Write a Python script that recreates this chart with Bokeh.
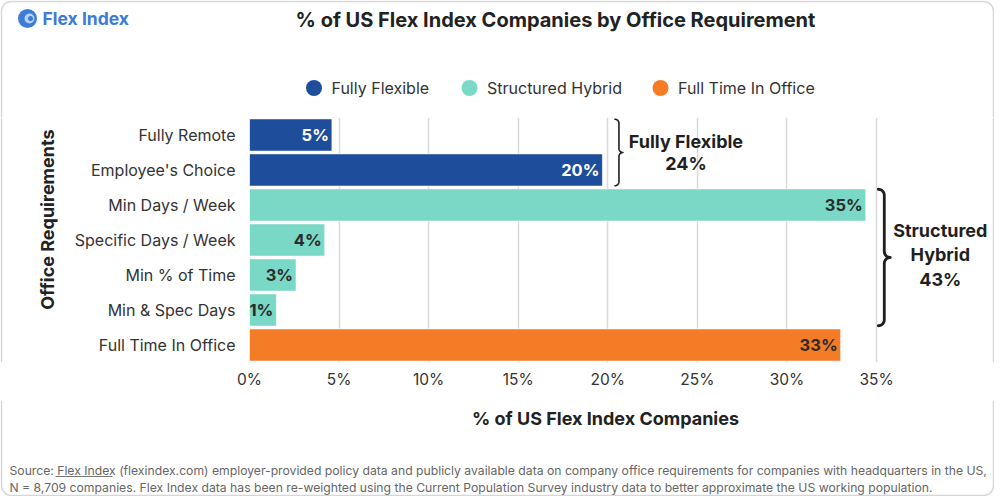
import math
from bokeh.plotting import figure
from bokeh.layouts import column, row
from bokeh.models import (ColumnDataSource, FactorRange, Range1d, FixedTicker,
                          PrintfTickFormatter)
from bokeh.core.properties import value
from bokeh.embed import file_html
from bokeh.resources import INLINE

# ---------------- data ----------------
categories = ["Fully Remote", "Employee's Choice", "Min Days / Week", "Specific Days / Week",
              "Min % of Time", "Min & Spec Days", "Full Time In Office"]
groups = ["Fully Flexible", "Fully Flexible", "Structured Hybrid", "Structured Hybrid",
          "Structured Hybrid", "Structured Hybrid", "Full Time In Office"]
values = [4.6, 19.7, 34.4, 4.2, 2.6, 1.5, 33.0]
value_labels = ["5%", "20%", "35%", "4%", "3%", "1%", "33%"]
group_names = ["Fully Flexible", "Structured Hybrid", "Full Time In Office"]
group_colors = ["#1e4d9b", "#7ad8c6", "#f47c27"]
brace_groups = ["Fully Flexible", "Structured Hybrid"]
brace_texts = ["Fully Flexible\n24%", "Structured\nHybrid\n43%"]
x_ticks = [0, 5, 10, 15, 20, 25, 30, 35]

title_text = "% of US Flex Index Companies by Office Requirement"
x_title = "% of US Flex Index Companies"
y_title = "Office Requirements"
logo_text = "Flex Index"
source_1 = ("Source: Flex Index (flexindex.com) employer-provided policy data and publicly available data "
            "on company office requirements for companies with headquarters in the US,")
source_2 = ("N = 8,709 companies. Flex Index data has been re-weighted using the Current Population "
            "Survey industry data to better approximate the US working population.")

# ---------------- layout constants ----------------
FONT = value("Inter")
TOTAL_W = 994
HEAD_H = 117
MAIN_H = 283
FOOT_H = 96
LEFT_W = 70
RIGHT_W = 4
MAIN_W = TOTAL_W - LEFT_W - RIGHT_W
ML = 249 - LEFT_W
MB = 38
frame_w = MAIN_W - ML
frame_h = MAIN_H - MB
PX_X = 627.0 / 35.0
x_end = frame_w / PX_X
N = len(categories)
PX_Y = frame_h / N
BAR_H = 0.92
BORDER = "#d6d6d6"
DARK = "#222222"


def panel(w, h, flip=True):
    f = figure(width=w, height=h, output_backend="svg", toolbar_location=None,
               x_range=Range1d(0, w), y_range=Range1d(h, 0) if flip else Range1d(0, h),
               x_axis_location=None, y_axis_location=None,
               min_border=0, min_border_left=0, min_border_right=0,
               min_border_top=0, min_border_bottom=0)
    f.outline_line_color = None
    f.xgrid.visible = False
    f.ygrid.visible = False
    f.background_fill_color = "white"
    f.border_fill_color = "white"
    return f


def arc_pts(cx, cy, r, a0, a1, n=8):
    xs, ys = [], []
    for k in range(n + 1):
        a = a0 + (a1 - a0) * k / n
        xs.append(cx + r * math.cos(a)); ys.append(cy + r * math.sin(a))
    return xs, ys

# ---------------- header ----------------
head = panel(TOTAL_W, HEAD_H)
R = 10
ax1, ay1 = arc_pts(1 + R, 1 + R, R, math.pi, 1.5 * math.pi)
ax2, ay2 = arc_pts(TOTAL_W - 1 - R, 1 + R, R, 1.5 * math.pi, 2 * math.pi)
head.line([1] + ax1 + ax2 + [TOTAL_W - 1], [HEAD_H] + ay1 + ay2 + [HEAD_H],
          line_color=BORDER, line_width=1.5)
head.scatter([27], [18], size=19, marker="circle", fill_color="#3d7bd9", line_color=None)
head.scatter([29], [18], size=10, marker="circle", fill_color="#b8d2f6", line_color=None)
head.scatter([30], [18], size=5, marker="circle", fill_color="#3d7bd9", line_color=None)
head.text([42], [18], text=[logo_text], text_font=FONT, text_font_size="17.5px",
          text_font_style="bold", text_color="#3d7bd9", text_baseline="middle", text_align="left")
head.text([555], [19], text=[title_text], text_font=FONT, text_font_size="20px",
          text_font_style="bold", text_color=DARK, text_baseline="middle", text_align="center")

# legend (drawn with circle markers and labels)
leg_x = [313.5, 469, 660]
head.scatter(leg_x, [87.5] * 3, size=16, marker="circle", fill_color=group_colors, line_color=None)
head.text([x + 17.5 for x in leg_x], [87.5] * 3, text=group_names, text_font=FONT,
          text_font_size="16px", text_color="#333333", text_baseline="middle", text_align="left")

# ---------------- left strip (y title) ----------------
left = panel(LEFT_W, MAIN_H, flip=False)
left.line([1, 1], [0, MAIN_H], line_color=BORDER, line_width=1.5)
# y measured upward from the strip bottom (strip spans page y 117..400)
left.text([47], [400 - 235], text=[y_title], angle=math.pi / 2, text_font=FONT,
          text_font_size="18px", text_font_style="bold", text_color=DARK,
          text_align="center", text_baseline="middle")

# ---------------- right strip (card border) ----------------
right = panel(RIGHT_W, MAIN_H)
right.line([RIGHT_W - 1, RIGHT_W - 1], [0, MAIN_H], line_color=BORDER, line_width=1.5)

# ---------------- main chart ----------------
p = figure(width=MAIN_W, height=MAIN_H, output_backend="svg", toolbar_location=None,
           y_range=FactorRange(factors=categories[::-1]),
           x_range=Range1d(0, x_end),
           min_border_left=ML, min_border_right=0, min_border_top=0, min_border_bottom=MB)
p.outline_line_color = None
p.background_fill_color = "white"
p.border_fill_color = "white"

color_map = dict(zip(group_names, group_colors))
text_cols = ["white" if g == "Fully Flexible" else "#2b2b2b" for g in groups]
src = ColumnDataSource(dict(cat=categories, val=values, lab=value_labels,
                            color=[color_map[g] for g in groups], tcol=text_cols))

p.hbar(y="cat", left=0, right="val", height=BAR_H, fill_color="color",
       line_color="white", line_alpha=0.6, line_width=1, source=src)
p.text(x="val", y="cat", text="lab", source=src, x_offset=-3,
       text_align="right", text_baseline="middle", text_color="tcol",
       text_font_size="16.5px", text_font_style="bold", text_font=FONT)


def brace(x0, y_top, y_bot, w_px):
    r = w_px / 2.0
    rx, ry = r / PX_X, r / PX_Y
    ym = (y_top + y_bot) / 2.0
    xs, ys = [], []
    n = 10
    for k in range(n + 1):
        t = math.pi / 2 - (math.pi / 2) * k / n
        xs.append(x0 + rx * math.cos(t)); ys.append(y_top - ry + ry * math.sin(t))
    for k in range(n + 1):
        t = math.pi + (math.pi / 2) * k / n
        xs.append(x0 + 2 * rx + rx * math.cos(t)); ys.append(ym + ry + ry * math.sin(t))
    for k in range(n + 1):
        t = math.pi / 2 + (math.pi / 2) * k / n
        xs.append(x0 + 2 * rx + rx * math.cos(t)); ys.append(ym - ry + ry * math.sin(t))
    for k in range(n + 1):
        t = 0 - (math.pi / 2) * k / n
        xs.append(x0 + rx * math.cos(t)); ys.append(y_bot + ry + ry * math.sin(t))
    return xs, ys


# brace width px, line width, text offset px, line height, vertical text offset px
brace_style = {"Fully Flexible": (8, 1.6, 63, 1.03, 0),
               "Structured Hybrid": (12, 2.8, 50, 1.15, -2.5)}
for g, txt in zip(brace_groups, brace_texts):
    idx = [i for i, gg in enumerate(groups) if gg == g]
    top = N - min(idx) - 0.5 + BAR_H / 2
    bot = N - max(idx) - 0.5 - BAR_H / 2
    gmax = max(values[i] for i in idx)
    x0 = gmax + 0.7
    w_px, lw, off, lh, yoff = brace_style[g]
    xs, ys = brace(x0, top - 0.01, bot + 0.01, w_px)
    p.line(xs, ys, line_color="#1f1f1f", line_width=lw, line_cap="round", line_join="round")
    p.text(x=[x0 + w_px / PX_X], y=[(top + bot) / 2], text=[txt], x_offset=off, y_offset=yoff,
           text_align="center", text_baseline="middle", text_color="#1f1f1f",
           text_font_size="18px", text_font_style="bold", text_font=FONT, text_line_height=lh)

p.xaxis.ticker = FixedTicker(ticks=x_ticks)
p.xaxis.formatter = PrintfTickFormatter(format="%d%%")
p.xaxis.axis_line_color = None
p.xaxis.major_tick_line_color = None
p.xaxis.minor_tick_line_color = None
p.xaxis.major_tick_out = 0
p.xaxis.major_tick_in = 0
p.xaxis.major_label_standoff = 7
p.xaxis.major_label_text_font = "Inter"
p.xaxis.major_label_text_font_size = "15.5px"
p.xaxis.major_label_text_color = "#333333"

p.yaxis.axis_line_color = None
p.yaxis.major_tick_line_color = None
p.yaxis.major_tick_out = 0
p.yaxis.major_tick_in = 0
p.yaxis.major_label_standoff = 14
p.yaxis.major_label_text_font = "Inter"
p.yaxis.major_label_text_font_size = "16px"
p.yaxis.major_label_text_color = "#333333"

p.xgrid.ticker = FixedTicker(ticks=x_ticks)
p.xgrid.grid_line_color = "#d9d9d9"
p.xgrid.grid_line_width = 1.5
p.ygrid.visible = False

# ---------------- footer ----------------
foot = panel(TOTAL_W, FOOT_H)
bx1, by1 = arc_pts(1 + R, FOOT_H - 1 - R, R, math.pi, 0.5 * math.pi)
bx2, by2 = arc_pts(TOTAL_W - 1 - R, FOOT_H - 1 - R, R, 0.5 * math.pi, 0)
foot.line([1] + bx1 + bx2 + [TOTAL_W - 1], [0] + by1 + by2 + [0],
          line_color=BORDER, line_width=1.5)
foot.text([605], [18], text=[x_title], text_font=FONT, text_font_size="18px",
          text_font_style="bold", text_color=DARK, text_align="center", text_baseline="middle")
foot.text([9, 9], [70, 86.5], text=[source_1, source_2], text_font=FONT, text_font_size="12.2px",
          text_color="#666666", text_align="left", text_baseline="middle")
foot.segment([55], [76], [112], [76], line_color="#777777", line_width=1)

layout = column(head, row(left, p, right), foot)
open("out.html", "w").write(file_html(layout, INLINE))
